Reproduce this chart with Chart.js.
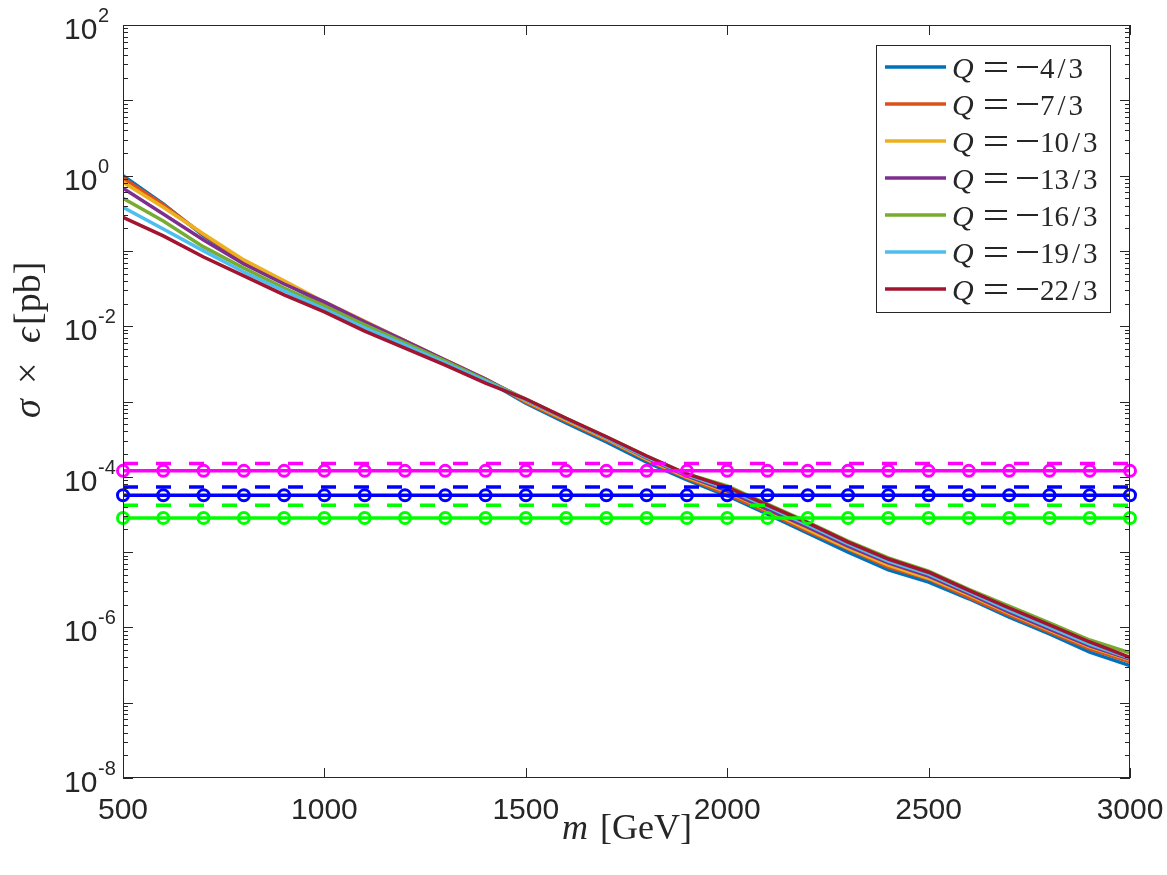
<!DOCTYPE html>
<html>
<head>
<meta charset="utf-8">
<script src="https://cdn.jsdelivr.net/npm/chart.js@4.4.1/dist/chart.umd.min.js"></script>
<style>
  html, body { margin: 0; padding: 0; background: #fff; }
</style>
</head>
<body>
<canvas id="chart" width="1167" height="875"></canvas>
<script>
// masses in GeV
const masses = [500, 600, 700, 800, 900, 1000, 1100, 1200, 1300, 1400, 1500, 1600, 1700,
  1800, 1900, 2000, 2100, 2200, 2300, 2400, 2500, 2600, 2700, 2800, 2900, 3000];

// sigma x eff [pb] for each charge
const q4 = [1.0, 0.42, 0.158, 0.0713, 0.0375, 0.0197, 0.0110, 0.00617, 0.00345, 0.00193, 9.5e-4, 5.2e-4, 2.9e-4,
  1.57e-4, 9.1e-5, 5.6e-5, 3.2e-5, 1.79e-5, 1.0e-5, 5.8e-6, 4.0e-6, 2.4e-6, 1.37e-6, 8.2e-7, 4.7e-7, 3.1e-7];
const q7 = [0.93, 0.41, 0.163, 0.0735, 0.0386, 0.0203, 0.0114, 0.0064, 0.00356, 0.00199, 9.8e-4, 5.5e-4, 3.1e-4,
  1.67e-4, 9.6e-5, 5.9e-5, 3.4e-5, 1.9e-5, 1.1e-5, 6.3e-6, 4.4e-6, 2.5e-6, 1.46e-6, 8.7e-7, 5.2e-7, 3.5e-7];
const q10 = [0.82, 0.38, 0.168, 0.076, 0.040, 0.021, 0.0117, 0.0064, 0.00356, 0.00199, 1.02e-3, 5.7e-4, 3.2e-4,
  1.72e-4, 9.9e-5, 6.3e-5, 3.6e-5, 2.0e-5, 1.13e-5, 6.7e-6, 4.5e-6, 2.7e-6, 1.55e-6, 9.2e-7, 5.5e-7, 3.7e-7];
const q13 = [0.68, 0.31, 0.14, 0.067, 0.0363, 0.021, 0.0114, 0.0064, 0.00356, 0.00199, 1.05e-3, 5.9e-4, 3.3e-4,
  1.78e-4, 1.03e-4, 6.5e-5, 3.7e-5, 2.15e-5, 1.2e-5, 7.2e-6, 4.8e-6, 2.8e-6, 1.6e-6, 9.5e-7, 5.7e-7, 3.8e-7];
const q16 = [0.50, 0.25, 0.113, 0.059, 0.032, 0.0185, 0.0104, 0.0060, 0.00345, 0.00193, 1.08e-3, 6.0e-4, 3.4e-4,
  1.89e-4, 1.09e-4, 7.6e-5, 4.35e-5, 2.5e-5, 1.4e-5, 8.4e-6, 5.6e-6, 3.2e-6, 1.92e-6, 1.15e-6, 6.8e-7, 4.6e-7];
const q19 = [0.38, 0.195, 0.10, 0.0525, 0.0294, 0.0169, 0.0095, 0.0056, 0.00324, 0.00187, 1.05e-3, 5.9e-4, 3.3e-4,
  1.83e-4, 1.06e-4, 6.9e-5, 4.0e-5, 2.3e-5, 1.28e-5, 7.6e-6, 5.1e-6, 2.95e-6, 1.7e-6, 1.01e-6, 6.0e-7, 3.9e-7];
const q22 = [0.28, 0.158, 0.083, 0.0465, 0.026, 0.0155, 0.0086, 0.0051, 0.00305, 0.00176, 1.08e-3, 6.0e-4, 3.4e-4,
  1.89e-4, 1.09e-4, 7.3e-5, 4.2e-5, 2.44e-5, 1.36e-5, 8.1e-6, 5.4e-6, 3.1e-6, 1.81e-6, 1.08e-6, 6.4e-7, 4.0e-7];

const chargeNums = ['4', '7', '10', '13', '16', '19', '22'];
const chargeColors = ['#0072BD', '#D95319', '#EDB120', '#7E2F8E', '#77AC30', '#4DBEEE', '#A2142F'];
const curves = [q4, q7, q10, q13, q16, q19, q22];

// limits (solid with circles, dashed without)
const limitMagenta = [1.2e-4, 1.2e-4, 1.2e-4, 1.2e-4, 1.2e-4, 1.2e-4, 1.2e-4, 1.2e-4, 1.2e-4, 1.2e-4, 1.2e-4, 1.2e-4, 1.2e-4,
  1.2e-4, 1.2e-4, 1.2e-4, 1.2e-4, 1.2e-4, 1.2e-4, 1.2e-4, 1.2e-4, 1.2e-4, 1.2e-4, 1.2e-4, 1.2e-4, 1.2e-4];
const limitBlue = [5.7e-5, 5.7e-5, 5.7e-5, 5.7e-5, 5.7e-5, 5.7e-5, 5.7e-5, 5.7e-5, 5.7e-5, 5.7e-5, 5.7e-5, 5.7e-5, 5.7e-5,
  5.7e-5, 5.7e-5, 5.7e-5, 5.7e-5, 5.7e-5, 5.7e-5, 5.7e-5, 5.7e-5, 5.7e-5, 5.7e-5, 5.7e-5, 5.7e-5, 5.7e-5];
const limitGreen = [2.84e-5, 2.84e-5, 2.84e-5, 2.84e-5, 2.84e-5, 2.84e-5, 2.84e-5, 2.84e-5, 2.84e-5, 2.84e-5, 2.84e-5, 2.84e-5, 2.84e-5,
  2.84e-5, 2.84e-5, 2.84e-5, 2.84e-5, 2.84e-5, 2.84e-5, 2.84e-5, 2.84e-5, 2.84e-5, 2.84e-5, 2.84e-5, 2.84e-5, 2.84e-5];
const dashedMasses = [500, 3000];
const dashedMagenta = [1.5e-4, 1.5e-4];
const dashedBlue = [7.3e-5, 7.3e-5];
const dashedGreen = [4.2e-5, 4.2e-5];

const xTicks = [500, 1000, 1500, 2000, 2500, 3000];
const yLabelExps = [2, 0, -2, -4, -6, -8];

const axisColor = '#262626';
const pts = (xs, ys) => xs.map((x, i) => ({ x: x, y: ys[i] }));

const datasets = [];
curves.forEach((c, i) => {
  datasets.push({
    data: pts(masses, c), borderColor: chargeColors[i], borderWidth: 3.5,
    pointRadius: 0, order: 20 - i
  });
});
[[limitMagenta, dashedMagenta, '#FF00FF'], [limitBlue, dashedBlue, '#0000FF'], [limitGreen, dashedGreen, '#00FF00']]
  .forEach(([solid, dashed, col]) => {
    datasets.push({
      data: pts(masses, solid), borderColor: col, borderWidth: 3.5, clip: false,
      pointRadius: 5.5, pointBorderWidth: 3, pointBorderColor: col,
      pointBackgroundColor: 'rgba(0,0,0,0)', order: 1
    });
    datasets.push({
      data: pts(dashedMasses, dashed), borderColor: col, borderWidth: 3.5,
      borderDash: [15, 18], pointRadius: 0, order: 2
    });
  });

const decor = {
  id: 'decor',
  afterDraw(chart) {
    const ctx = chart.ctx, a = chart.chartArea;
    const xs = chart.scales.x, ys = chart.scales.y;
    const sans = '"Liberation Sans", Arial, sans-serif';
    const serif = '"Liberation Serif", "DejaVu Serif", "Times New Roman", serif';
    ctx.save();
    ctx.strokeStyle = axisColor;
    ctx.lineWidth = 1;
    ctx.strokeRect(a.left + 0.5, a.top + 0.5, a.right - a.left - 1, a.bottom - a.top - 1);

    // ticks (inward, on all four sides)
    ctx.beginPath();
    xTicks.forEach(v => {
      const px = Math.round(xs.getPixelForValue(v)) + 0.5;
      ctx.moveTo(px, a.bottom); ctx.lineTo(px, a.bottom - 10);
      ctx.moveTo(px, a.top); ctx.lineTo(px, a.top + 10);
    });
    for (let d = -8; d <= 2; d++) {
      for (let k = 1; k <= 9; k++) {
        if (d === 2 && k > 1) break;
        const py = Math.round(ys.getPixelForValue(k * Math.pow(10, d))) + 0.5;
        const len = k === 1 ? 10 : 5;
        ctx.moveTo(a.left, py); ctx.lineTo(a.left + len, py);
        ctx.moveTo(a.right, py); ctx.lineTo(a.right - len, py);
      }
    }
    ctx.stroke();

    // tick labels
    ctx.fillStyle = axisColor;
    ctx.font = '30px ' + sans;
    ctx.textAlign = 'center';
    ctx.textBaseline = 'alphabetic';
    xTicks.forEach(v => ctx.fillText(String(v), xs.getPixelForValue(v), 819));
    yLabelExps.forEach(e => {
      const py = ys.getPixelForValue(Math.pow(10, e));
      ctx.font = '30px ' + sans;
      ctx.textAlign = 'left';
      ctx.fillText('10', 64, py + 14);
      ctx.font = '20px ' + sans;
      ctx.fillText(String(e), 98, py - 3);
    });

    // axis titles
    ctx.textAlign = 'left';
    ctx.font = 'italic 36px ' + serif;
    ctx.fillText('m', 562, 839);
    ctx.font = '36px ' + serif;
    ctx.fillText('[GeV]', 600, 839);

    ctx.save();
    ctx.translate(40, 418);
    ctx.rotate(-Math.PI / 2);
    ctx.font = 'italic 38px ' + serif;
    ctx.fillText('σ', 0, 0);
    ctx.font = '38px ' + serif;
    ctx.fillText('×', 34, 0);
    ctx.font = 'italic 38px ' + serif;
    ctx.fillText('\u03F5', 75, 0);
    ctx.font = '38px ' + serif;
    ctx.fillText('[pb]', 93, 0);
    ctx.restore();

    // legend
    const lx = 876, ly = 45, lw = 234, lh = 267;
    ctx.fillStyle = '#fff';
    ctx.fillRect(lx, ly, lw, lh);
    ctx.strokeStyle = axisColor;
    ctx.lineWidth = 1;
    ctx.strokeRect(lx + 0.5, ly + 0.5, lw, lh);
    chargeNums.forEach((num, i) => {
      const y = 67 + i * 37;
      ctx.strokeStyle = chargeColors[i];
      ctx.lineWidth = 3.5;
      ctx.beginPath();
      ctx.moveTo(885, y); ctx.lineTo(946, y);
      ctx.stroke();
      ctx.fillStyle = axisColor;
      ctx.textAlign = 'left';
      ctx.font = 'italic 30px ' + serif;
      ctx.fillText('Q', 952, y + 11);
      // "=" and "−" as math-style bars
      ctx.fillRect(985, y - 5, 22, 2);
      ctx.fillRect(985, y + 3, 22, 2);
      ctx.fillRect(1017, y - 1, 21, 2);
      ctx.font = '29px ' + serif;
      ctx.fillText(num, 1040, y + 11);
      const nw = ctx.measureText(num).width;
      ctx.textAlign = 'center';
      ctx.fillText('/', 1040 + nw + 7, y + 11);
      ctx.textAlign = 'left';
      ctx.fillText('3', 1040 + nw + 14, y + 11);
    });
    ctx.restore();
  }
};

new Chart(document.getElementById('chart'), {
  type: 'line',
  data: { datasets: datasets },
  options: {
    responsive: false,
    animation: false,
    devicePixelRatio: 1,
    layout: { padding: { left: 123, right: 37, top: 25, bottom: 97 } },
    plugins: { legend: { display: false }, tooltip: { enabled: false } },
    elements: { line: { tension: 0 } },
    scales: {
      x: { type: 'linear', min: 500, max: 3000, display: false },
      y: { type: 'logarithmic', min: 1e-8, max: 1e2, display: false }
    }
  },
  plugins: [decor]
});
</script>
</body>
</html>
